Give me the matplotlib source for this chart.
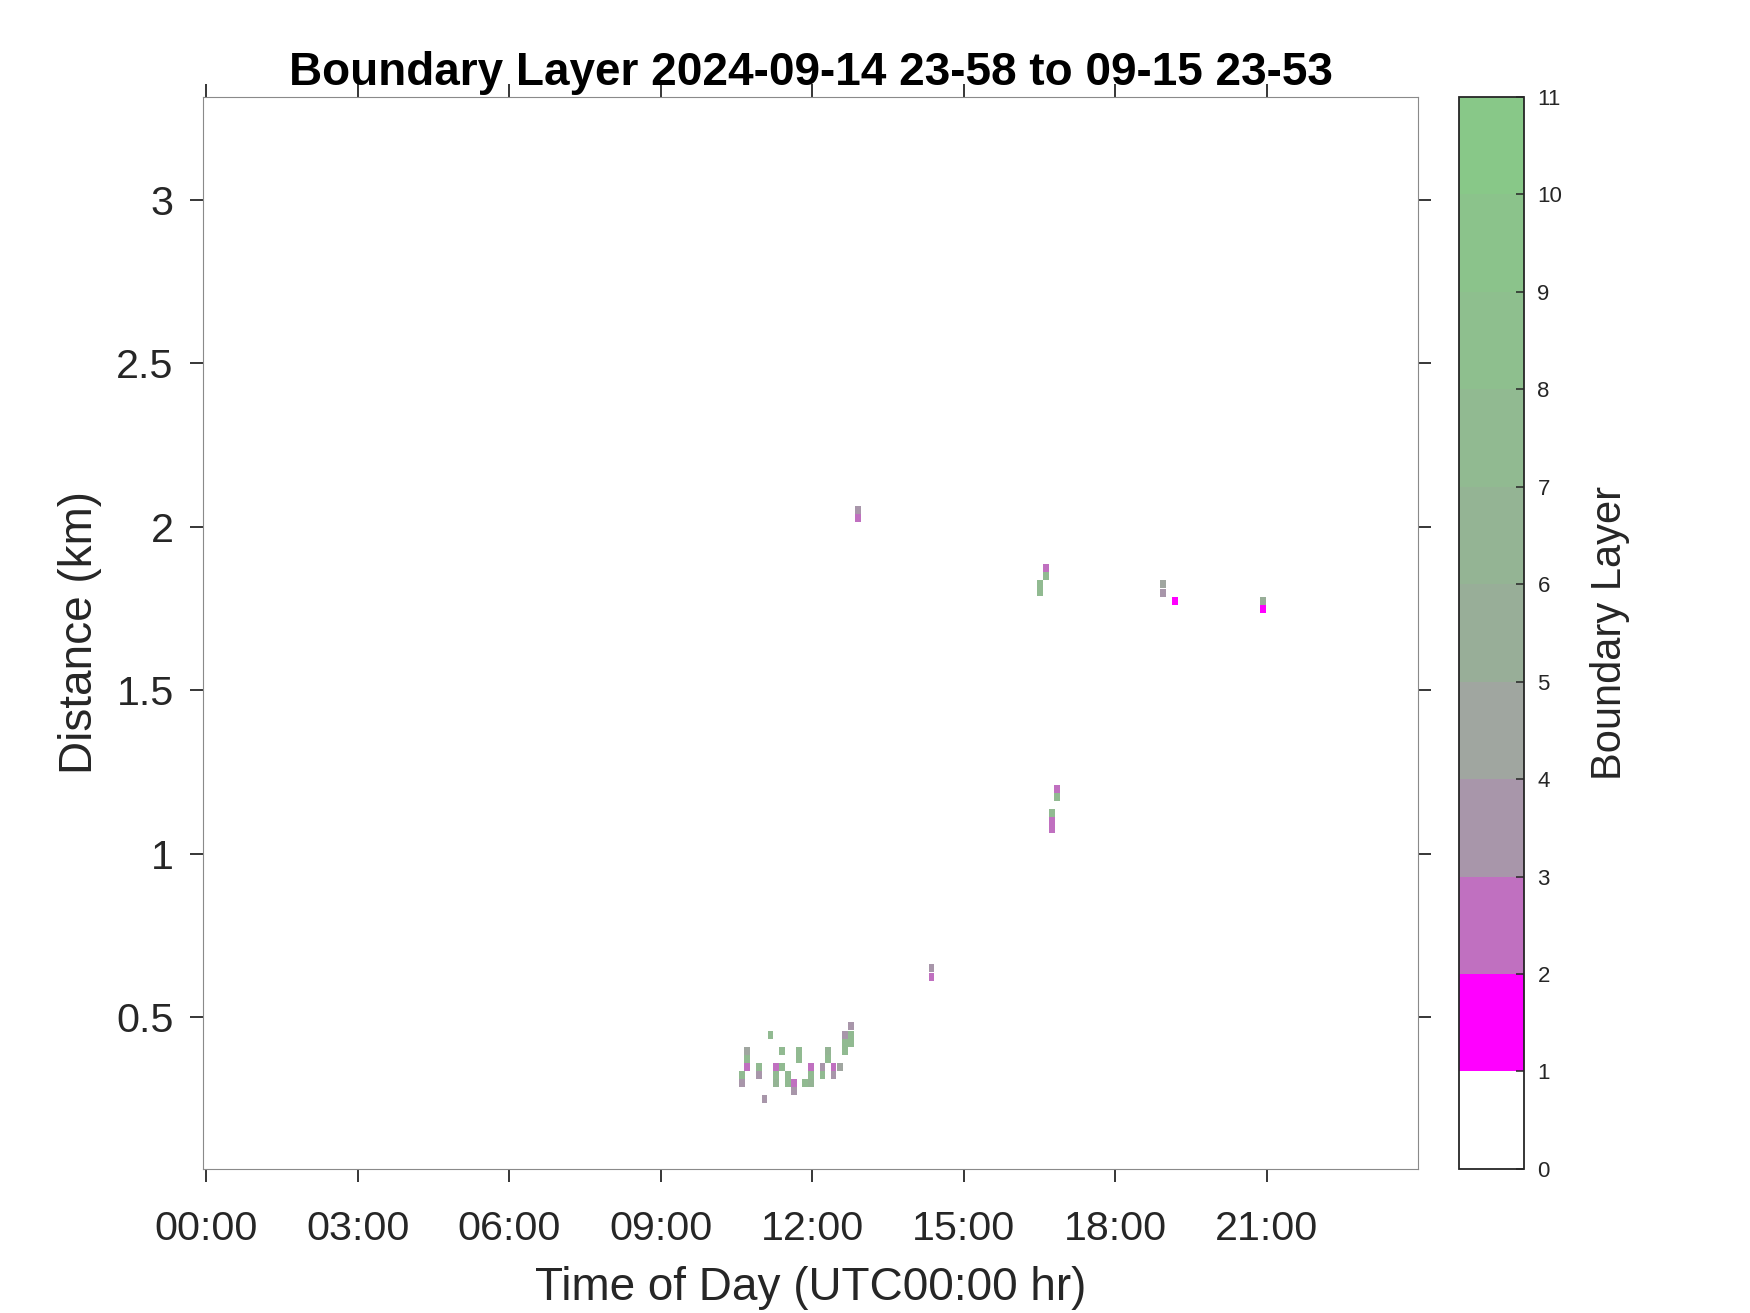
import numpy as np
import matplotlib.pyplot as plt
from matplotlib.colors import ListedColormap, BoundaryNorm
from matplotlib.cm import ScalarMappable

plt.rcParams['font.family'] = ['Liberation Sans', 'DejaVu Sans']

# Boundary layer detections: time (h UTC), distance (km), class
bl_time = [10.60, 10.60,
           10.71, 10.71, 10.71,
           10.94, 10.94,
           11.05,
           11.17,
           11.28, 11.28, 11.28,
           11.40, 11.40,
           11.51, 11.51,
           11.63, 11.63,
           11.74, 11.74,
           11.85,
           11.97, 11.97, 11.97,
           12.20, 12.20,
           12.31, 12.31,
           12.42, 12.42,
           12.54,
           12.65, 12.65, 12.65,
           12.77, 12.77, 12.77,
           12.91, 12.91,
           14.36, 14.36,
           16.51, 16.51,
           16.63, 16.63,
           16.75, 16.75, 16.75,
           16.85, 16.85,
           18.95, 18.95,
           19.18,
           20.93, 20.93]
bl_dist = [0.323, 0.298,
           0.398, 0.373, 0.348,
           0.348, 0.323,
           0.249,
           0.447,
           0.348, 0.323, 0.298,
           0.398, 0.348,
           0.323, 0.298,
           0.298, 0.274,
           0.398, 0.373,
           0.298,
           0.348, 0.323, 0.298,
           0.348, 0.323,
           0.398, 0.373,
           0.348, 0.323,
           0.348,
           0.447, 0.422, 0.398,
           0.472, 0.447, 0.422,
           2.051, 2.026,
           0.652, 0.623,
           1.825, 1.800,
           1.874, 1.850,
           1.125, 1.100, 1.076,
           1.198, 1.174,
           1.825, 1.799,
           1.773,
           1.773, 1.749]
bl_class = [7.5, 3.5,
            4.5, 7.5, 2.5,
            7.5, 3.5,
            3.5,
            7.5,
            2.5, 7.5, 6.5,
            7.5, 7.5,
            7.5, 7.5,
            2.5, 3.5,
            7.5, 7.5,
            7.5,
            2.5, 7.5, 6.5,
            3.5, 7.5,
            6.5, 7.5,
            2.5, 3.5,
            4.5,
            3.5, 7.5, 7.5,
            3.5, 7.5, 7.5,
            3.5, 2.5,
            3.5, 2.5,
            7.5, 7.5,
            2.5, 7.5,
            7.5, 2.5, 2.5,
            2.5, 7.5,
            4.5, 3.5,
            1.5,
            5.5, 1.5]

class_colors = ['#ffffff', '#ff00ff', '#c070c0', '#a896aa', '#a0a6a0',
                '#98ae98', '#94b494', '#91ba91', '#8ebf8e', '#8bc38b', '#88c888']
class_bounds = list(range(12))

x_ticks = [0, 3, 6, 9, 12, 15, 18, 21]
x_ticklabels = ['00:00', '03:00', '06:00', '09:00', '12:00', '15:00', '18:00', '21:00']
y_ticks = [0.5, 1, 1.5, 2, 2.5, 3]
y_ticklabels = ['0.5', '1', '1.5', '2', '2.5', '3']

dt = 0.1143   # time step (h)
dz = 0.0248   # range gate (km)

cmap = ListedColormap(class_colors)
norm = BoundaryNorm(class_bounds, cmap.N)

tick_col = '#262626'
fig = plt.figure(figsize=(17.5, 13.13), dpi=100)
ax = fig.add_axes([0.1162, 0.1097, 0.6943, 0.8167])

t = np.array(bl_time)
d = np.array(bl_dist)
ax.bar(t, dz, bottom=d - dz / 2, width=dt, color=cmap(norm(np.array(bl_class))),
       linewidth=0, antialiased=False)

ax.set_xlim(-0.06, 24.0)
ax.set_ylim(0.036, 3.316)
ax.set_xticks(x_ticks)
ax.set_xticklabels(x_ticklabels)
ax.set_yticks(y_ticks)
ax.set_yticklabels(y_ticklabels)

ax.tick_params(direction='out', length=9.4, width=1.3, color=tick_col,
               labelcolor=tick_col, labelsize=29.7, top=True, right=True)
ax.tick_params(axis='x', pad=20)
ax.tick_params(axis='y', pad=12)
for s in ax.spines.values():
    s.set_color('#8a8a8a')
    s.set_linewidth(0.8)

ax.set_xlabel('Time of Day (UTC00:00 hr)', fontsize=33, color=tick_col)
ax.set_ylabel('Distance (km)', fontsize=33, color=tick_col)
ax.xaxis.set_label_coords(0.5, -0.111)
ax.yaxis.set_label_coords(-0.1015, 0.5)
ax.xaxis.label.set_va('center')
ax.yaxis.label.set_va('center')

ax.set_title('Boundary Layer 2024-09-14 23-58 to 09-15 23-53', fontsize=33,
             fontweight='bold', y=1.0147, va='center')

# colorbar
cax = fig.add_axes([0.8336, 0.1097, 0.037, 0.8167])
sm = ScalarMappable(norm=norm, cmap=cmap)
cb = fig.colorbar(sm, cax=cax, ticks=class_bounds)
cb.outline.set_edgecolor(tick_col)
cb.outline.set_linewidth(1.3)
cax.tick_params(direction='in', length=6, width=1.1, color=tick_col,
                labelcolor=tick_col, labelsize=16, pad=10)
cb.set_label('Boundary Layer', fontsize=30, color=tick_col, labelpad=20)

plt.savefig('out.png', dpi=100)
